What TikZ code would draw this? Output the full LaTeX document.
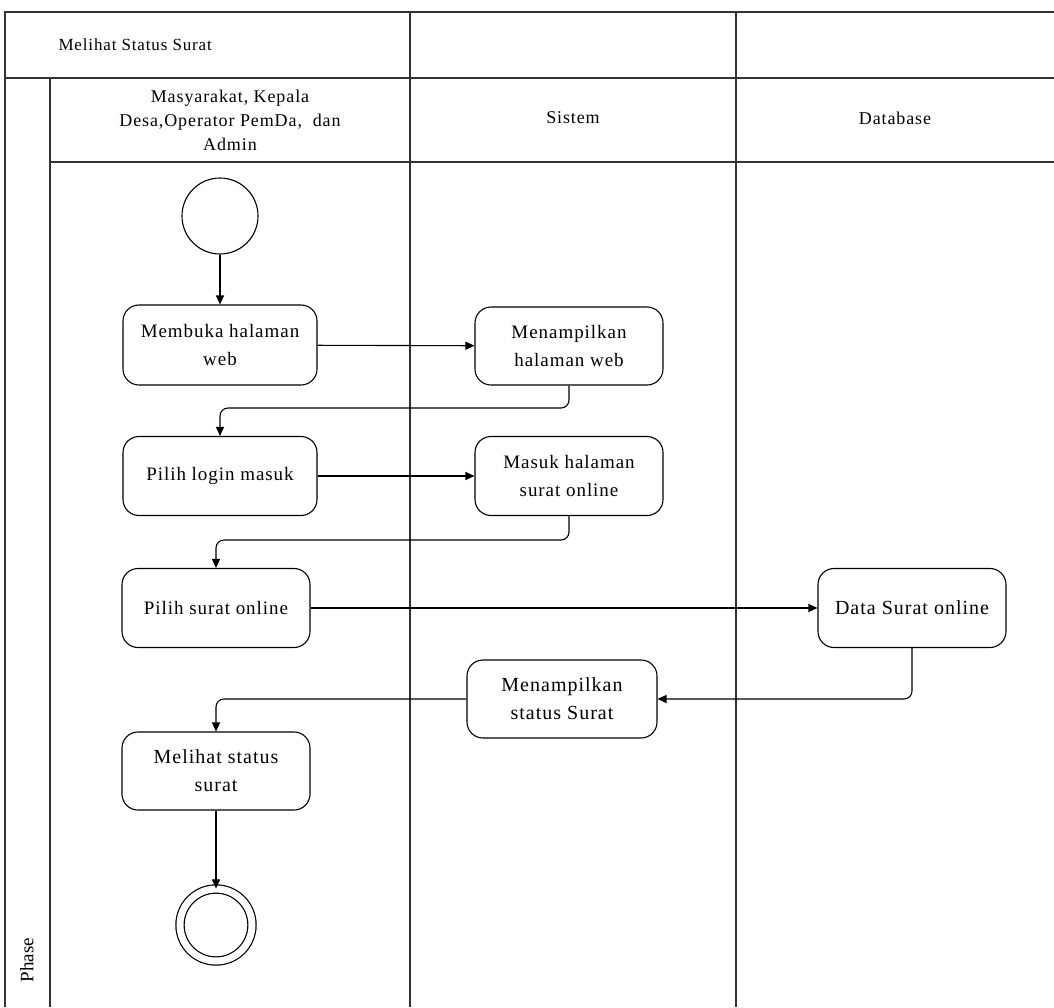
\documentclass[tikz,border=0pt]{standalone}
\usepackage{fontspec}
\setmainfont{Liberation Serif}
\usetikzlibrary{arrows.meta,positioning}
\begin{document}
\begin{tikzpicture}[x=1pt,y=-1pt,
  frame/.style={line width=1.6pt,draw=black!80},
  act/.style={draw,line width=1.1pt,rounded corners=16pt,align=center,font=\fontsize{19}{28}\selectfont\addfontfeature{LetterSpace=5},inner sep=2pt},
  big/.style={font=\fontsize{20}{28}\selectfont\addfontfeature{LetterSpace=5}},
  flow/.style={line width=1.1pt,-{Triangle[length=9pt,width=8pt]},rounded corners=8pt},
  lbl/.style={align=center,font=\fontsize{18}{24}\selectfont\addfontfeature{LetterSpace=5}}]
\useasboundingbox (0,0) rectangle (1054,1007);
% frame
\draw[frame] (5,1007) -- (5,12) -- (1054,12);
\draw[frame] (5,78) -- (1054,78);
\draw[frame] (50,162) -- (1054,162);
\draw[frame] (50,78) -- (50,1007);
\draw[frame] (410,12) -- (410,1007);
\draw[frame] (736,12) -- (736,1007);
% labels
\node[anchor=west,font=\fontsize{17}{18}\selectfont\addfontfeature{LetterSpace=5}] (title) at (55,45) {Melihat Status Surat};
\node[lbl] (lane1) at (230,120) {Masyarakat, Kepala\\Desa,Operator PemDa,\ \ dan\\Admin};
\node[lbl] (lane2) at (573,118) {Sistem};
\node[lbl] (lane3) at (895,118) {Database};
\node[rotate=90,font=\fontsize{19}{20}\selectfont] (phase) at (27,960) {Phase};
% activities
\node[draw,circle,line width=1.1pt,minimum size=76pt,inner sep=0pt] (start) at (220,216) {};
\node[act,minimum width=194pt,minimum height=80pt] (a1) at (220,345) {Membuka halaman\\web};
\node[act,minimum width=188pt,minimum height=78pt] (b1) at (569,346) {Menampilkan\\halaman web};
\node[act,minimum width=194pt,minimum height=79pt] (a2) at (220,476) {Pilih login masuk};
\node[act,minimum width=188pt,minimum height=79pt] (b2) at (569,476) {Masuk halaman\\surat online};
\node[act,minimum width=188pt,minimum height=79pt] (a3) at (216,608) {Pilih surat online};
\node[act,big,minimum width=188pt,minimum height=79pt] (c1) at (912,608) {Data Surat online};
\node[act,big,minimum width=190pt,minimum height=78pt] (b3) at (562,699) {Menampilkan\\status Surat};
\node[act,big,minimum width=188pt,minimum height=78pt] (a4) at (216,771) {Melihat status\\surat};
\node[draw,circle,double,double distance=7pt,line width=1.2pt,minimum size=72pt,inner sep=0pt] (end) at (216,925) {};
% flows
\draw[flow] (start) -- (a1);
\draw[flow] (a1) -- (b1);
\draw[flow] (b1.south) -- (569,408) -- (220,408) -- (a2.north);
\draw[flow] (a2) -- (a2 -| b2.west);
\draw[flow] (b2.south) -- (569,540) -- (216,540) -- (a3.north);
\draw[flow] (a3) -- (c1);
\draw[flow] (c1.south) -- (912,699) -- (b3.east);
\draw[flow] (b3.west) -- (216,699) -- (a4.north);
\draw[flow] (a4) -- (end);
\end{tikzpicture}
\end{document}
